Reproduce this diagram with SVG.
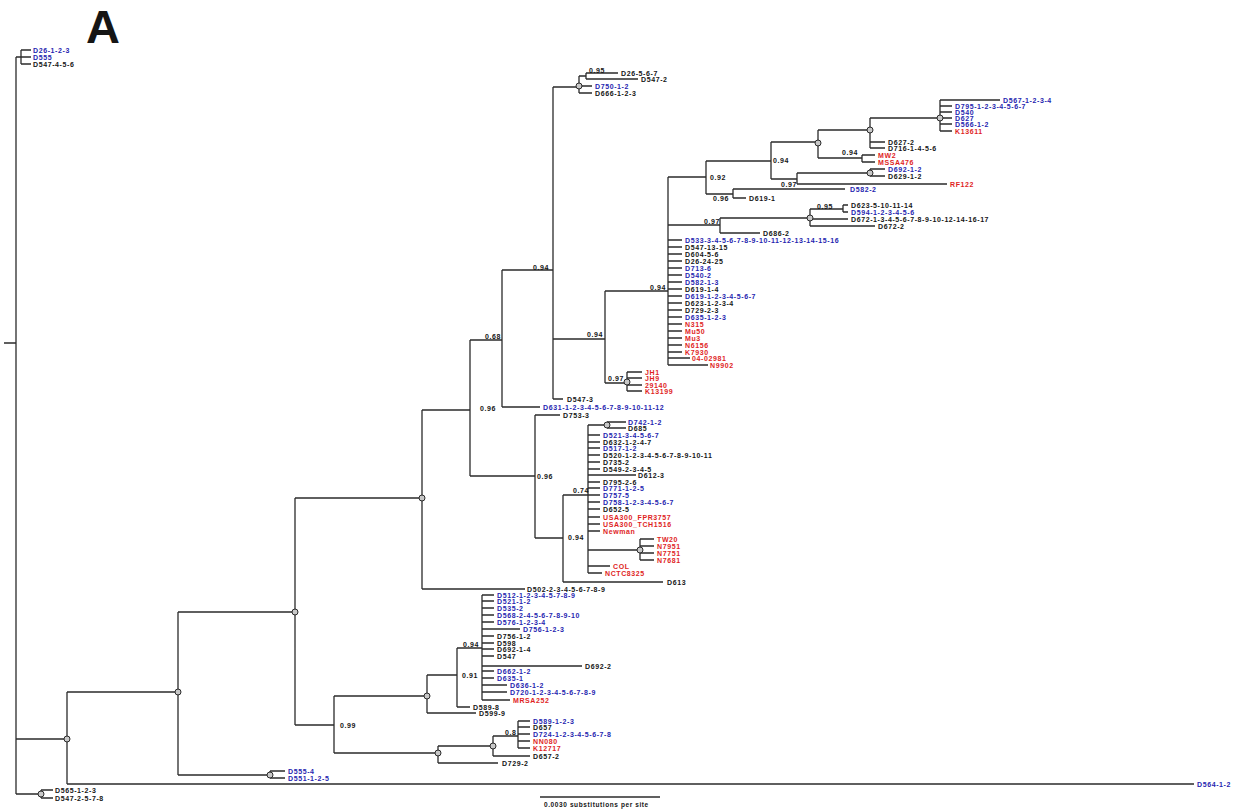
<svg xmlns="http://www.w3.org/2000/svg" width="1238" height="809" viewBox="0 0 1238 809">
<style>
.br{fill:none;stroke:#2b2b2b;stroke-width:1.3}
.nd{fill:#c8c8c8;stroke:#2b2b2b;stroke-width:1}
text{font-family:"Liberation Sans",Arial,sans-serif;font-weight:bold;font-size:7px;letter-spacing:0.6px;dominant-baseline:central;fill:#151515}
.bl{fill:#2626b0}
.rd{fill:#e01e1e}
.big{font-size:47px;letter-spacing:0;dominant-baseline:auto}
</style>
<rect width="1238" height="809" fill="#ffffff"/>
<text class="big" x="86" y="43">A</text>
<g id="connectors">
<path class="br" d="M4,343H16 M16,57V794 M16,57H21 M21,50V64 M21,50H31 M21,57H31 M21,64H31
M16,739H67 M16,794H41 M41,790V798 M41,790H53 M41,798H53
M67,692V784 M67,784H1194 M67,692H178 M178,612V775
M178,775H270 M270,771V778 M270,771H285 M270,778H285
M178,612H295 M295,498V725 M295,725H334 M334,696V753 M334,696H427 M427,675V713
M427,675H457 M457,648V707 M457,648H482 M482,595V700
M482,595H494 M482,601H494 M482,608H494 M482,615H494 M482,622H494 M482,629H520 M482,636H494 M482,643H494 M482,649H494 M482,656H494 M482,666H582 M482,671H494 M482,678H494 M482,685H507 M482,692H507 M482,700H510
M457,707H470 M427,713H476
M334,753H438 M438,746V763 M438,746H493 M493,736V756 M493,736H518 M518,721V748
M518,721H530 M518,727H530 M518,734H530 M518,741H530 M518,748H530 M493,756H530 M438,763H498
M295,498H422 M422,410V589 M422,589H525 M422,410H470 M470,340V476 M470,340H502 M502,270V407 M502,407H540 M502,270H553
M553,87V399 M553,399H563 M553,87H579 M579,76V93 M579,76H586 M586,73V79 M586,73H618 M586,79H638 M579,86H592 M579,93H592
M553,339H605 M605,291V383 M605,383H627 M627,372V391 M627,372H642 M627,378H642 M627,385H642 M627,391H642
M605,291H668 M668,177V365
M668,240H682 M668,247H682 M668,254H682 M668,261H682 M668,268H682 M668,275H682 M668,282H682 M668,289H682 M668,296H682 M668,303H682 M668,310H682 M668,317H682 M668,324H682 M668,331H682 M668,338H682 M668,345H682 M668,352H682 M668,358H690 M668,365H708
M668,177H706 M706,161V194 M706,161H771 M771,142V179 M771,142H818 M818,130V158 M818,130H870 M870,118V148 M870,118H940 M940,100V131
M940,100H1000 M940,106H952 M940,112H952 M940,118H952 M940,124H952 M940,131H952
M870,142H885 M870,148H885
M818,158H862 M862,155V162 M862,155H875 M862,162H875
M771,179H797 M797,173V184 M797,173H870 M870,169V176 M870,169H885 M870,176H885 M797,184H947
M706,194H733 M733,189V198 M733,189H845 M733,198H746
M668,225H720 M720,218V233 M720,218H810 M810,209V226 M810,209H843 M843,205V212 M843,205H848 M843,212H848 M810,219H848 M810,226H875 M720,233H760
M470,476H535 M535,415V538 M535,415H560 M535,538H563 M563,495V582 M563,495H588 M588,425V573
M588,425H607 M607,422V428 M607,422H626 M607,428H626
M588,435H600 M588,442H600 M588,448H600 M588,455H600 M588,462H600 M588,469H600 M588,475H636 M588,482H600 M588,488H600 M588,495H600 M588,502H600 M588,509H600 M588,517H600 M588,524H600 M588,531H600
M588,550H640 M640,539V560 M640,539H654 M640,546H654 M640,553H654 M640,560H654
M588,566H610 M588,573H602 M563,582H663"/>
<path class="br" d="M540,797H660"/>
</g>
<g id="internal-nodes">
<circle class="nd" cx="67" cy="739" r="3"/>
<circle class="nd" cx="41" cy="794" r="3"/>
<circle class="nd" cx="178" cy="692" r="3"/>
<circle class="nd" cx="270" cy="775" r="3"/>
<circle class="nd" cx="295" cy="612" r="3"/>
<circle class="nd" cx="427" cy="696" r="3"/>
<circle class="nd" cx="438" cy="753" r="3"/>
<circle class="nd" cx="493" cy="746" r="3"/>
<circle class="nd" cx="422" cy="498" r="3"/>
<circle class="nd" cx="579" cy="86" r="3"/>
<circle class="nd" cx="627" cy="382" r="3"/>
<circle class="nd" cx="818" cy="143" r="3"/>
<circle class="nd" cx="870" cy="130" r="3"/>
<circle class="nd" cx="940" cy="118" r="3"/>
<circle class="nd" cx="870" cy="173" r="3"/>
<circle class="nd" cx="810" cy="218" r="3"/>
<circle class="nd" cx="607" cy="425" r="3"/>
<circle class="nd" cx="640" cy="550" r="3"/>
</g>
<g id="support-labels">
<text x="589" y="70">0.95</text>
<text x="533" y="267">0.94</text>
<text x="485" y="336">0.68</text>
<text x="480" y="408">0.96</text>
<text x="587" y="334">0.94</text>
<text x="608" y="378">0.97</text>
<text x="650" y="287">0.94</text>
<text x="710" y="177">0.92</text>
<text x="773" y="160">0.94</text>
<text x="842" y="152">0.94</text>
<text x="781" y="184">0.97</text>
<text x="713" y="198">0.96</text>
<text x="817" y="206">0.95</text>
<text x="704" y="221">0.97</text>
<text x="537" y="476">0.96</text>
<text x="568" y="537">0.94</text>
<text x="573" y="490">0.74</text>
<text x="463" y="644">0.94</text>
<text x="462" y="675">0.91</text>
<text x="340" y="725">0.99</text>
<text x="505" y="732">0.8</text>
</g>
<g id="leaf-001"><text class="bl" x="33" y="50">D26-1-2-3</text></g>
<g id="leaf-002"><text class="bl" x="33" y="57">D555</text></g>
<g id="leaf-003"><text x="33" y="64">D547-4-5-6</text></g>
<g id="leaf-004"><text x="55" y="790">D565-1-2-3</text></g>
<g id="leaf-005"><text x="55" y="798">D547-2-5-7-8</text></g>
<g id="leaf-006"><text class="bl" x="1197" y="784">D564-1-2</text></g>
<g id="leaf-007"><text class="bl" x="288" y="771">D555-4</text></g>
<g id="leaf-008"><text class="bl" x="288" y="778">D551-1-2-5</text></g>
<g id="leaf-009"><text class="bl" x="497" y="595">D512-1-2-3-4-5-7-8-9</text></g>
<g id="leaf-010"><text class="bl" x="497" y="601">D521-1-2</text></g>
<g id="leaf-011"><text class="bl" x="497" y="608">D535-2</text></g>
<g id="leaf-012"><text class="bl" x="497" y="615">D568-2-4-5-6-7-8-9-10</text></g>
<g id="leaf-013"><text class="bl" x="497" y="622">D576-1-2-3-4</text></g>
<g id="leaf-014"><text class="bl" x="523" y="629">D756-1-2-3</text></g>
<g id="leaf-015"><text x="497" y="636">D756-1-2</text></g>
<g id="leaf-016"><text x="497" y="643">D598</text></g>
<g id="leaf-017"><text x="497" y="649">D692-1-4</text></g>
<g id="leaf-018"><text x="497" y="656">D547</text></g>
<g id="leaf-019"><text x="585" y="666">D692-2</text></g>
<g id="leaf-020"><text class="bl" x="497" y="671">D662-1-2</text></g>
<g id="leaf-021"><text class="bl" x="497" y="678">D635-1</text></g>
<g id="leaf-022"><text class="bl" x="510" y="685">D636-1-2</text></g>
<g id="leaf-023"><text class="bl" x="510" y="692">D720-1-2-3-4-5-6-7-8-9</text></g>
<g id="leaf-024"><text class="rd" x="513" y="700">MRSA252</text></g>
<g id="leaf-025"><text x="473" y="707">D589-8</text></g>
<g id="leaf-026"><text x="479" y="713">D599-9</text></g>
<g id="leaf-027"><text class="bl" x="533" y="721">D589-1-2-3</text></g>
<g id="leaf-028"><text x="533" y="727">D657</text></g>
<g id="leaf-029"><text class="bl" x="533" y="734">D724-1-2-3-4-5-6-7-8</text></g>
<g id="leaf-030"><text class="rd" x="533" y="741">NN080</text></g>
<g id="leaf-031"><text class="rd" x="533" y="748">K12717</text></g>
<g id="leaf-032"><text x="533" y="756">D657-2</text></g>
<g id="leaf-033"><text x="502" y="763">D729-2</text></g>
<g id="leaf-034"><text x="527" y="589">D502-2-3-4-5-6-7-8-9</text></g>
<g id="leaf-035"><text class="bl" x="543" y="407">D631-1-2-3-4-5-6-7-8-9-10-11-12</text></g>
<g id="leaf-036"><text x="567" y="399">D547-3</text></g>
<g id="leaf-037"><text x="621" y="73">D26-5-6-7</text></g>
<g id="leaf-038"><text x="641" y="79">D547-2</text></g>
<g id="leaf-039"><text class="bl" x="595" y="86">D750-1-2</text></g>
<g id="leaf-040"><text x="595" y="93">D666-1-2-3</text></g>
<g id="leaf-041"><text class="rd" x="645" y="372">JH1</text></g>
<g id="leaf-042"><text class="rd" x="645" y="378">JH9</text></g>
<g id="leaf-043"><text class="rd" x="645" y="385">29140</text></g>
<g id="leaf-044"><text class="rd" x="645" y="391">K13199</text></g>
<g id="leaf-045"><text class="bl" x="685" y="240">D533-3-4-5-6-7-8-9-10-11-12-13-14-15-16</text></g>
<g id="leaf-046"><text x="685" y="247">D547-13-15</text></g>
<g id="leaf-047"><text x="685" y="254">D604-5-6</text></g>
<g id="leaf-048"><text x="685" y="261">D26-24-25</text></g>
<g id="leaf-049"><text class="bl" x="685" y="268">D713-6</text></g>
<g id="leaf-050"><text class="bl" x="685" y="275">D540-2</text></g>
<g id="leaf-051"><text class="bl" x="685" y="282">D582-1-3</text></g>
<g id="leaf-052"><text x="685" y="289">D619-1-4</text></g>
<g id="leaf-053"><text class="bl" x="685" y="296">D619-1-2-3-4-5-6-7</text></g>
<g id="leaf-054"><text x="685" y="303">D623-1-2-3-4</text></g>
<g id="leaf-055"><text x="685" y="310">D729-2-3</text></g>
<g id="leaf-056"><text class="bl" x="685" y="317">D635-1-2-3</text></g>
<g id="leaf-057"><text class="rd" x="685" y="324">N315</text></g>
<g id="leaf-058"><text class="rd" x="685" y="331">Mu50</text></g>
<g id="leaf-059"><text class="rd" x="685" y="338">Mu3</text></g>
<g id="leaf-060"><text class="rd" x="685" y="345">N6156</text></g>
<g id="leaf-061"><text class="rd" x="685" y="352">K7930</text></g>
<g id="leaf-062"><text class="rd" x="692" y="358">04-02981</text></g>
<g id="leaf-063"><text class="rd" x="710" y="365">N9902</text></g>
<g id="leaf-064"><text class="bl" x="1003" y="100">D567-1-2-3-4</text></g>
<g id="leaf-065"><text class="bl" x="955" y="106">D795-1-2-3-4-5-6-7</text></g>
<g id="leaf-066"><text class="bl" x="955" y="112">D540</text></g>
<g id="leaf-067"><text class="bl" x="955" y="118">D627</text></g>
<g id="leaf-068"><text class="bl" x="955" y="124">D566-1-2</text></g>
<g id="leaf-069"><text class="rd" x="955" y="131">K13611</text></g>
<g id="leaf-070"><text x="888" y="142">D627-2</text></g>
<g id="leaf-071"><text x="888" y="148">D716-1-4-5-6</text></g>
<g id="leaf-072"><text class="rd" x="878" y="155">MW2</text></g>
<g id="leaf-073"><text class="rd" x="878" y="162">MSSA476</text></g>
<g id="leaf-074"><text class="bl" x="888" y="169">D692-1-2</text></g>
<g id="leaf-075"><text x="888" y="176">D629-1-2</text></g>
<g id="leaf-076"><text class="rd" x="950" y="184">RF122</text></g>
<g id="leaf-077"><text class="bl" x="850" y="189">D582-2</text></g>
<g id="leaf-078"><text x="749" y="198">D619-1</text></g>
<g id="leaf-079"><text x="851" y="205">D623-5-10-11-14</text></g>
<g id="leaf-080"><text class="bl" x="851" y="212">D594-1-2-3-4-5-6</text></g>
<g id="leaf-081"><text x="851" y="219">D672-1-3-4-5-6-7-8-9-10-12-14-16-17</text></g>
<g id="leaf-082"><text x="878" y="226">D672-2</text></g>
<g id="leaf-083"><text x="763" y="233">D686-2</text></g>
<g id="leaf-084"><text x="563" y="415">D753-3</text></g>
<g id="leaf-085"><text class="bl" x="628" y="422">D742-1-2</text></g>
<g id="leaf-086"><text x="628" y="428">D685</text></g>
<g id="leaf-087"><text class="bl" x="603" y="435">D521-3-4-5-6-7</text></g>
<g id="leaf-088"><text x="603" y="442">D632-1-2-4-7</text></g>
<g id="leaf-089"><text class="bl" x="603" y="448">D517-1-2</text></g>
<g id="leaf-090"><text x="603" y="455">D520-1-2-3-4-5-6-7-8-9-10-11</text></g>
<g id="leaf-091"><text x="603" y="462">D735-2</text></g>
<g id="leaf-092"><text x="603" y="469">D549-2-3-4-5</text></g>
<g id="leaf-093"><text x="638" y="475">D612-3</text></g>
<g id="leaf-094"><text x="603" y="482">D795-2-6</text></g>
<g id="leaf-095"><text class="bl" x="603" y="488">D771-1-2-5</text></g>
<g id="leaf-096"><text class="bl" x="603" y="495">D757-5</text></g>
<g id="leaf-097"><text class="bl" x="603" y="502">D758-1-2-3-4-5-6-7</text></g>
<g id="leaf-098"><text x="603" y="509">D652-5</text></g>
<g id="leaf-099"><text class="rd" x="603" y="517">USA300_FPR3757</text></g>
<g id="leaf-100"><text class="rd" x="603" y="524">USA300_TCH1516</text></g>
<g id="leaf-101"><text class="rd" x="603" y="531">Newman</text></g>
<g id="leaf-102"><text class="rd" x="657" y="539">TW20</text></g>
<g id="leaf-103"><text class="rd" x="657" y="546">N7951</text></g>
<g id="leaf-104"><text class="rd" x="657" y="553">N7751</text></g>
<g id="leaf-105"><text class="rd" x="657" y="560">N7681</text></g>
<g id="leaf-106"><text class="rd" x="613" y="566">COL</text></g>
<g id="leaf-107"><text class="rd" x="605" y="573">NCTC8325</text></g>
<g id="leaf-108"><text x="667" y="582">D613</text></g>
<g id="scale"><text x="544" y="804" style="font-size:6.5px;letter-spacing:0.6px">0.0030 substitutions per site</text></g>
</svg>
